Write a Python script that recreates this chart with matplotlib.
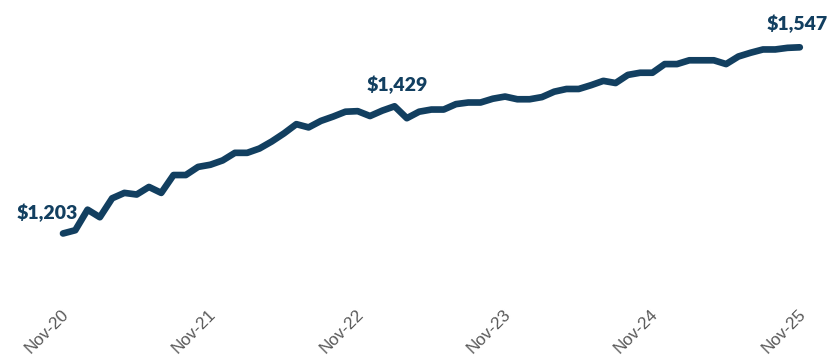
import numpy as np
import pandas as pd
import matplotlib
matplotlib.use('Agg')
import matplotlib.pyplot as plt
import matplotlib.transforms as mtransforms

# monthly average rent, Nov-20 .. Nov-25
months = pd.date_range('2020-11-01', '2025-11-01', freq='MS')
rent = [1203, 1209, 1247, 1233, 1268, 1278, 1275, 1289, 1278, 1311,
        1311, 1326, 1330, 1338, 1352, 1352, 1360, 1373, 1388, 1405,
        1399, 1411, 1419, 1428, 1429, 1420, 1430, 1438, 1416, 1428,
        1432, 1432, 1442, 1445, 1445, 1452, 1456, 1451, 1451, 1455,
        1465, 1470, 1470, 1477, 1485, 1481, 1496, 1500, 1500, 1516,
        1516, 1523, 1523, 1523, 1516, 1530, 1537, 1543, 1543, 1546,
        1547]
tick_idx = [0, 12, 24, 36, 48, 60]
tick_labels = [months[i].strftime('%b-%y') for i in tick_idx]
# points that get a value label, with label offset in pixels
label_idx = [0, 24, 60]
label_offsets = [(-16, 21), (39, 26), (-3, 23)]

navy = '#123f60'
grey = '#595959'

fig = plt.figure(figsize=(8.31, 3.58), dpi=100)
ax = fig.add_axes([0, 58 / 358, 1, 300 / 358])

x = np.arange(len(rent))
ax.plot(x, rent, color=navy, lw=4.8, solid_capstyle='round', solid_joinstyle='round')

for i, (dx, dy) in zip(label_idx, label_offsets):
    ax.annotate('${:,}'.format(rent[i]), (x[i], rent[i]), xytext=(dx, dy),
                textcoords='offset pixels', ha='center', va='center',
                fontsize=14, fontweight='heavy', family='Lato', color=navy)

ax.set_xlim(-63 / 12.28, (831 - 63) / 12.28)
ax.set_ylim(1080.1, 1634.4)
ax.set_yticks([])
ax.set_xticks(tick_idx)
ax.set_xticklabels(tick_labels, rotation=45, ha='right', va='top',
                   rotation_mode='anchor', fontsize=12.3,
                   family='Liberation Sans', color=grey)
ax.tick_params(axis='x', length=0, pad=5)
shift = mtransforms.ScaledTranslation(-2 / 100, 0, fig.dpi_scale_trans)
for lab in ax.get_xticklabels():
    lab.set_transform(lab.get_transform() + shift)
for s in ax.spines.values():
    s.set_visible(False)

fig.savefig('out.png', dpi=100, facecolor='white')
